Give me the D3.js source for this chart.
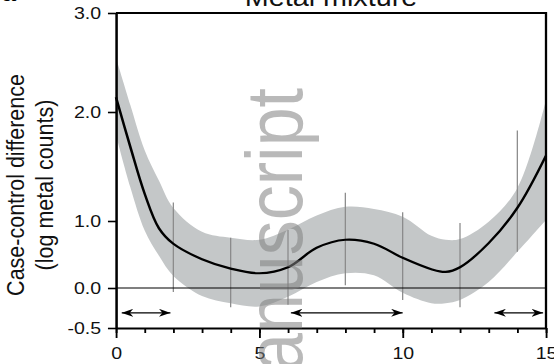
<!DOCTYPE html>
<html>
<head>
<meta charset="utf-8">
<script src="https://cdn.jsdelivr.net/npm/d3@7"></script>
<style>
  html, body { margin: 0; padding: 0; background: #fff; }
  svg { display: block; font-family: "Liberation Sans", Arial, Helvetica, sans-serif; }
</style>
</head>
<body>
<div id="app"></div>
<script>
const WIDTH = 554;
const HEIGHT = 364;
// the source figure is stretched sideways a little
const SX = 1.15;

// x grid of the smooth fit
const xs = [0, 0.5, 1, 1.5, 2, 3, 4, 5, 6, 7, 8, 9, 10, 11, 11.5, 12, 13, 14, 15];
const fit = [2.15, 1.68, 1.25, 0.89, 0.66, 0.43, 0.29, 0.22, 0.31, 0.60, 0.72, 0.66, 0.45, 0.28, 0.24, 0.31, 0.67, 1.12, 1.60];
const upper = [2.55, 2.07, 1.65, 1.37, 1.12, 0.84, 0.75, 0.72, 0.87, 1.05, 1.13, 1.11, 1.04, 0.78, 0.72, 0.73, 0.99, 1.30, 2.12];
const lower = [1.79, 1.31, 0.86, 0.48, 0.18, -0.10, -0.19, -0.23, -0.11, 0.09, 0.22, 0.19, -0.06, -0.19, -0.19, -0.15, 0.09, 0.54, 1.01];

// vertical interval bars
const barX = [2, 4, 6, 8, 10, 12, 14];
const barLo = [-0.05, -0.24, -0.21, 0.04, -0.15, -0.24, 0.54];
const barHi = [1.17, 0.75, 0.87, 1.26, 1.08, 0.97, 1.83];

// double arrows
const arrowFrom = [0.2, 6.1, 13.2];
const arrowTo = [1.9, 10.0, 14.9];
const arrowLevel = -0.31;

const yTicks = [-0.5, 0, 1, 2, 3];
const xMajor = [0, 5, 10, 15];
const xMinor = d3.range(0, 16);

const svg = d3.select("#app")
  .append("svg")
  .attr("width", WIDTH)
  .attr("height", HEIGHT);

const root = svg.append("g").attr("transform", `scale(${SX},1)`);

const x = d3.scaleLinear().domain([0, 15]).range([116 / SX, 546 / SX]);
// uneven y axis in the source, so a piecewise scale
const y = d3.scaleLinear().domain(yTicks).range([328, 288, 221, 112, 13]);

const rows = xs.map((v, i) => ({ x: v, fit: fit[i], hi: upper[i], lo: lower[i] }));

// band
root.append("path")
  .datum(rows)
  .attr("fill", "#c4c7c8")
  .attr("d", d3.area()
    .x(d => x(d.x))
    .y0(d => y(d.lo))
    .y1(d => y(d.hi))
    .curve(d3.curveCatmullRom));

// interval bars
root.append("g")
  .selectAll("line")
  .data(barX)
  .join("line")
  .attr("x1", d => x(d))
  .attr("x2", d => x(d))
  .attr("y1", (d, i) => y(barLo[i]))
  .attr("y2", (d, i) => y(barHi[i]))
  .attr("stroke", "#8a8a8a")
  .attr("stroke-width", 1.1);

// zero line
root.append("line")
  .attr("x1", x(0)).attr("x2", x(15))
  .attr("y1", y(0)).attr("y2", y(0))
  .attr("stroke", "#000")
  .attr("stroke-width", 1);

// fitted curve
root.append("path")
  .datum(rows)
  .attr("fill", "none")
  .attr("stroke", "#000")
  .attr("stroke-width", 2.2)
  .attr("d", d3.line()
    .x(d => x(d.x))
    .y(d => y(d.fit))
    .curve(d3.curveCatmullRom));

// arrows
const defs = svg.append("defs");
defs.append("marker")
  .attr("id", "head")
  .attr("viewBox", "0 0 10 8")
  .attr("refX", 10)
  .attr("refY", 4)
  .attr("markerWidth", 10)
  .attr("markerHeight", 8)
  .attr("markerUnits", "userSpaceOnUse")
  .attr("orient", "auto-start-reverse")
  .append("path")
  .attr("d", "M0,0 L10,4 L0,8 L3,4 Z")
  .attr("fill", "#000");

root.append("g")
  .selectAll("line")
  .data(arrowFrom)
  .join("line")
  .attr("x1", d => x(d))
  .attr("x2", (d, i) => x(arrowTo[i]))
  .attr("y1", y(arrowLevel))
  .attr("y2", y(arrowLevel))
  .attr("stroke", "#000")
  .attr("stroke-width", 1.2)
  .attr("marker-start", "url(#head)")
  .attr("marker-end", "url(#head)");

// frame top + right
root.append("path")
  .attr("d", `M${x(0)},${y(3)} H${x(15)} V${y(-0.5)}`)
  .attr("fill", "none")
  .attr("stroke", "#000")
  .attr("stroke-width", 2);

// axes
root.append("g")
  .attr("transform", `translate(${x(0)},0)`)
  .call(d3.axisLeft(y)
    .tickValues(yTicks)
    .tickFormat(d => d.toFixed(1))
    .tickSize(7)
    .tickSizeOuter(0)
    .tickPadding(6));

const xMinorAxis = root.append("g")
  .attr("transform", `translate(0,${y(-0.5)})`)
  .call(d3.axisBottom(x).tickValues(xMinor).tickSize(5).tickSizeOuter(0).tickFormat(""));
xMinorAxis.select(".domain").remove();

root.append("g")
  .attr("transform", `translate(0,${y(-0.5)})`)
  .call(d3.axisBottom(x)
    .tickValues(xMajor)
    .tickFormat(d3.format("d"))
    .tickSize(10)
    .tickSizeOuter(0)
    .tickPadding(9));

root.selectAll(".domain").attr("stroke-width", 2.2);
root.selectAll(".tick line").attr("stroke-width", 1.6);
root.selectAll(".tick text")
  .attr("font-family", "'Liberation Sans', Arial, sans-serif")
  .attr("font-size", 17)
  .attr("fill", "#111");

// y label
const yl = root.append("text")
  .attr("transform", `translate(${24 / SX},185) rotate(-90)`)
  .attr("text-anchor", "middle")
  .attr("font-size", 21.5)
  .attr("fill", "#111");
yl.append("tspan").attr("x", 0).attr("y", 0).text("Case-control difference");
yl.append("tspan").attr("x", 0).attr("y", 29 / SX).text("(log metal counts)");

// title, cut at the top edge
root.append("text")
  .attr("x", x(7.5))
  .attr("y", 5.5)
  .attr("text-anchor", "middle")
  .attr("font-size", 25)
  .attr("fill", "#111")
  .text("Metal mixture");

root.append("text")
  .attr("x", 2 / SX)
  .attr("y", 1)
  .attr("font-size", 22)
  .attr("font-weight", "bold")
  .text("a");

// watermark
root.append("text")
  .attr("transform", `translate(${302 / SX},88) rotate(-90)`)
  .attr("text-anchor", "end")
  .attr("font-size", 70)
  .attr("fill", "#808080")
  .attr("fill-opacity", 0.55)
  .text("Author Manuscript");
</script>
</body>
</html>
